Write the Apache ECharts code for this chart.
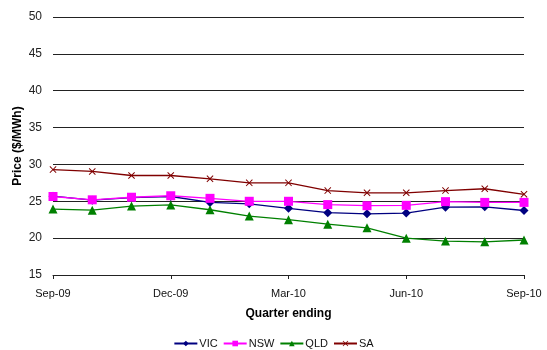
<!DOCTYPE html>
<html>
<head>
<meta charset="utf-8">
<script src="https://cdn.jsdelivr.net/npm/echarts@6/dist/echarts.min.js"></script>
<style>
  html, body { margin: 0; padding: 0; background: #fff; }
  #chart { width: 547px; height: 350px; }
</style>
</head>
<body>
<div id="chart"></div>
<script>
// Monthly wholesale price by region, quarter ending Sep-09 to Sep-10
const months = ['Sep-09', 'Oct-09', 'Nov-09', 'Dec-09', 'Jan-10', 'Feb-10', 'Mar-10',
                'Apr-10', 'May-10', 'Jun-10', 'Jul-10', 'Aug-10', 'Sep-10'];
const vic = [25.7, 25.15, 25.5, 25.65, 24.85, 24.65, 24.05, 23.45, 23.3, 23.4, 24.2, 24.25, 23.75];
const nsw = [25.65, 25.2, 25.55, 25.75, 25.4, 25.0, 25.0, 24.55, 24.4, 24.45, 24.95, 24.85, 24.85];
const qld = [23.95, 23.8, 24.35, 24.5, 23.85, 23.0, 22.5, 21.9, 21.4, 20.0, 19.6, 19.5, 19.75];
const sa  = [29.3, 29.05, 28.5, 28.5, 28.05, 27.5, 27.5, 26.45, 26.15, 26.15, 26.45, 26.7, 25.95];

const FONT = 'Arial, "Liberation Sans", sans-serif';
const crossSymbol = 'path://M0,1L1,0L5,4L9,0L10,1L6,5L10,9L9,10L5,6L1,10L0,9L4,5Z';

function line(name, data, color, symbol, size) {
  return {
    name: name,
    type: 'line',
    data: data,
    symbol: symbol,
    symbolSize: size,
    showAllSymbol: true,
    lineStyle: { color: color, width: 1.3 },
    itemStyle: { color: color },
    emphasis: { disabled: true },
    animation: false
  };
}

const chart = echarts.init(document.getElementById('chart'), null, { renderer: 'canvas' });
chart.setOption({
  backgroundColor: '#fff',
  textStyle: { fontFamily: FONT },
  grid: { left: 53, right: 23, top: 17, bottom: 75, containLabel: false },
  xAxis: {
    type: 'category',
    data: months,
    boundaryGap: false,
    name: 'Quarter ending',
    nameLocation: 'middle',
    nameGap: 33,
    nameTextStyle: { fontFamily: FONT, fontSize: 12, fontWeight: 'bold', color: '#000' },
    axisLine: { lineStyle: { color: '#222', width: 1 } },
    axisTick: { interval: 2, length: 4, lineStyle: { color: '#222' } },
    axisLabel: { interval: 2, fontFamily: FONT, fontSize: 11, color: '#111', margin: 13 },
    splitLine: { show: false }
  },
  yAxis: {
    type: 'value',
    min: 15,
    max: 50,
    interval: 5,
    name: 'Price ($/MWh)',
    nameLocation: 'middle',
    nameGap: 29,
    nameMoveOverlap: false,
    nameTextStyle: { fontFamily: FONT, fontSize: 12, fontWeight: 'bold', color: '#000' },
    axisLine: { show: false },
    axisTick: { show: false },
    axisLabel: { fontFamily: FONT, fontSize: 12, color: '#222', margin: 11 },
    splitLine: { lineStyle: { color: '#222', width: 1 } }
  },
  legend: {
    bottom: -4,
    left: 'center',
    itemWidth: 23,
    itemHeight: 7,
    itemGap: 5,
    textStyle: { fontFamily: FONT, fontSize: 11, color: '#111', padding: [0, 0, 0, -3] },
    data: ['VIC', 'NSW', 'QLD', 'SA']
  },
  series: [
    line('VIC', vic, '#000080', 'diamond', 9),
    line('NSW', nsw, '#FF00FF', 'rect', 9),
    line('QLD', qld, '#008000', 'triangle', 9),
    line('SA', sa, '#800000', crossSymbol, 7)
  ]
});
</script>
</body>
</html>
